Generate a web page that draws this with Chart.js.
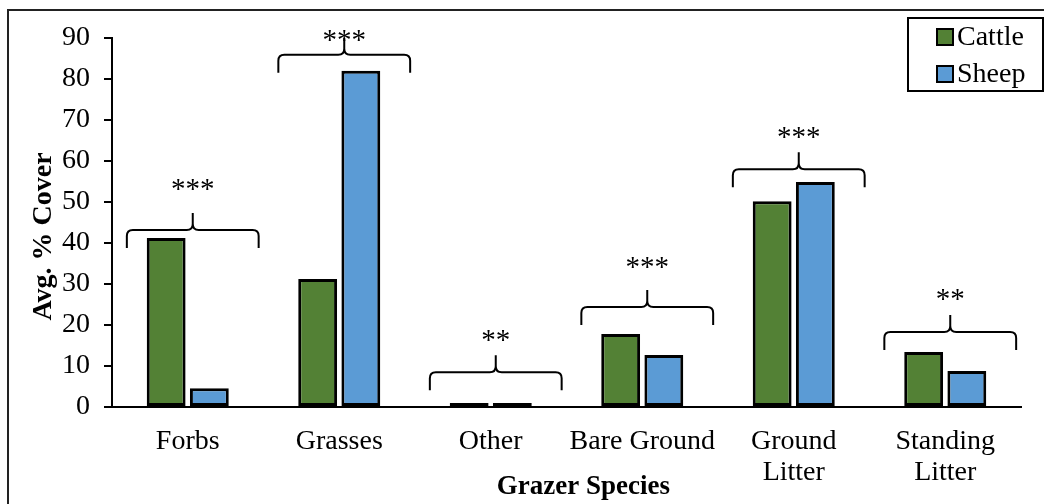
<!DOCTYPE html>
<html>
<head>
<meta charset="utf-8">
<script src="https://cdn.jsdelivr.net/npm/chart.js@4/dist/chart.umd.min.js"></script>
<style>
  body { margin: 0; background: #fff; }
  canvas { display: block; }
</style>
</head>
<body>
<canvas id="coverChart" width="1044" height="504"></canvas>
<script>
// data
const categories = ["Forbs", "Grasses", "Other", "Bare Ground", ["Ground", "Litter"], ["Standing", "Litter"]];
const cattleCover = [41.2, 31.2, 1.0, 17.8, 50.2, 13.4];
const sheepCover = [4.6, 82.0, 1.0, 12.7, 54.9, 8.8];
const yTicks = [0, 10, 20, 30, 40, 50, 60, 70, 80, 90];
// significance markers: stars, brace level and star level (in % cover units)
const sigLabels = ["***", "***", "**", "***", "***", "**"];
const braceLevels = [43.2, 85.9, 8.5, 24.4, 58.0, 18.3];
const starLevels = [54.4, 90.7, 17.6, 35.4, 67.1, 27.6];

const serif = "'Liberation Serif', 'Times New Roman', serif";
const green = "#538135";
const blue = "#5B9BD5";

// white page + the left/top frame line of the figure
const framePlugin = {
    id: "frame",
    beforeDraw(chart) {
        const c = chart.ctx;
        c.save();
        c.fillStyle = "#fff";
        c.fillRect(0, 0, chart.width, chart.height);
        c.strokeStyle = "#222";
        c.lineWidth = 2;
        c.beginPath();
        c.moveTo(8, chart.height);
        c.lineTo(8, 10);
        c.lineTo(chart.width, 10);
        c.stroke();
        c.restore();
    }
};

// curly braces with stars over each pair of bars
const bracePlugin = {
    id: "braces",
    afterDatasetsDraw(chart) {
        const c = chart.ctx;
        const xs = chart.scales.x;
        const ys = chart.scales.y;
        const half = xs.width / categories.length * 0.435;
        c.save();
        c.strokeStyle = "#000";
        c.lineWidth = 2;
        c.fillStyle = "#000";
        c.font = "29px " + serif;
        c.textAlign = "center";
        c.textBaseline = "alphabetic";
        categories.forEach(function (cat, i) {
            const cx = xs.getPixelForValue(i) + 5;
            const y = ys.getPixelForValue(braceLevels[i]);
            const x0 = cx - half, x1 = cx + half;
            const r = 6;
            c.beginPath();
            c.moveTo(x0, y + 18);
            c.lineTo(x0, y + r);
            c.quadraticCurveTo(x0, y, x0 + r, y);
            c.lineTo(cx - r, y);
            c.quadraticCurveTo(cx, y, cx, y - r);
            c.lineTo(cx, y - 17);
            c.moveTo(cx, y - r);
            c.quadraticCurveTo(cx, y, cx + r, y);
            c.lineTo(x1 - r, y);
            c.quadraticCurveTo(x1, y, x1, y + r);
            c.lineTo(x1, y + 18);
            c.stroke();
            const sy = ys.getPixelForValue(starLevels[i]);
            c.fillText(sigLabels[i], cx, sy + 14);
        });
        c.restore();
    }
};

// boxed legend in the top right corner
const legendPlugin = {
    id: "boxLegend",
    afterDraw(chart) {
        const c = chart.ctx;
        const bx = 908, by = 18, bw = 135, bh = 73;
        c.save();
        c.fillStyle = "#fff";
        c.fillRect(bx, by, bw, bh);
        c.strokeStyle = "#000";
        c.lineWidth = 2;
        c.strokeRect(bx, by, bw, bh);
        c.font = "28px " + serif;
        c.textBaseline = "middle";
        c.textAlign = "left";
        chart.data.datasets.forEach(function (ds, i) {
            const yy = 37 + i * 37;
            c.fillStyle = ds.backgroundColor;
            c.fillRect(937, yy - 8, 16, 16);
            c.strokeStyle = "#000";
            c.lineWidth = 2;
            c.strokeRect(937, yy - 8, 16, 16);
            c.fillStyle = "#000";
            c.fillText(ds.label, 957, yy + 1);
        });
        c.restore();
    }
};

new Chart(document.getElementById("coverChart").getContext("2d"), {
    type: "bar",
    data: {
        labels: categories,
        datasets: [{
            label: "Cattle",
            data: cattleCover,
            backgroundColor: green,
            borderColor: "#000",
            borderWidth: 3,
            borderSkipped: false
        }, {
            label: "Sheep",
            data: sheepCover,
            backgroundColor: blue,
            borderColor: "#000",
            borderWidth: 3,
            borderSkipped: false
        }]
    },
    options: {
        responsive: false,
        animation: false,
        layout: { padding: { top: 38, right: 23, left: 0, bottom: 0 } },
        datasets: {
            bar: { categoryPercentage: 0.57, barPercentage: 0.9 }
        },
        plugins: {
            legend: { display: false },
            tooltip: { enabled: false }
        },
        scales: {
            x: {
                grid: { display: false },
                border: { color: "#000", width: 2 },
                ticks: {
                    color: "#000",
                    padding: 12,
                    maxRotation: 0,
                    autoSkip: false,
                    font: { family: serif, size: 28, lineHeight: 1.08 }
                },
                title: {
                    display: true,
                    text: "     Grazer Species",
                    color: "#000",
                    padding: { top: 0, bottom: 1 },
                    font: { family: serif, size: 27, weight: "bold", lineHeight: 1.2 }
                },
                afterFit(scale) { scale.height = 97; }
            },
            y: {
                min: 0,
                max: 90,
                afterBuildTicks(scale) {
                    scale.ticks = yTicks.map(v => ({ value: v }));
                },
                grid: {
                    drawOnChartArea: false,
                    tickLength: 8,
                    color: "#000",
                    lineWidth: 2
                },
                border: { color: "#000", width: 2 },
                ticks: {
                    color: "#000",
                    padding: 14,
                    font: { family: serif, size: 28 }
                },
                title: {
                    display: true,
                    text: "Avg. % Cover    ",
                    color: "#000",
                    padding: { top: 27, bottom: 0 },
                    font: { family: serif, size: 28, weight: "bold", lineHeight: 1.2 }
                },
                afterFit(scale) { scale.width = 112; }
            }
        }
    },
    plugins: [framePlugin, bracePlugin, legendPlugin]
});
</script>
</body>
</html>
